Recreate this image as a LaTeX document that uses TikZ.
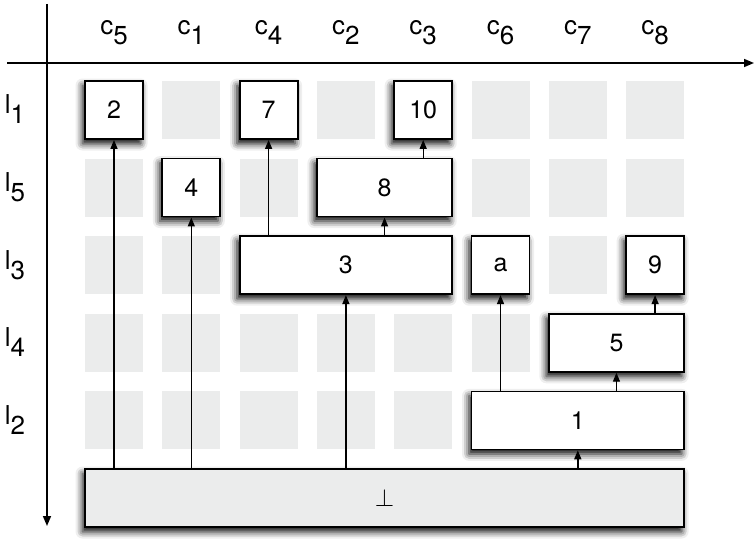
\documentclass[tikz,border=0pt]{standalone}
\usepackage{fontspec}
\setmainfont{TeX Gyre Heros}
\usepackage{xcolor}
\usetikzlibrary{arrows.meta,positioning,calc,shadows.blur}

\definecolor{cellgrey}{HTML}{EBECEC}
\newcommand{\idx}[2]{#1\raisebox{-10pt}{#2}}

\begin{document}
\begin{tikzpicture}[x=1pt,y=-1pt,
  every node/.style={font=\fontsize{25}{30}\selectfont},
  cell/.style={fill=cellgrey,draw=none,minimum size=58pt,inner sep=0pt},
  box/.style={draw,line width=1.8pt,fill=white,minimum height=58pt,
    minimum width=58pt,inner sep=0pt,
    blur shadow={shadow xshift=-2.5pt,shadow yshift=-4.5pt,
      shadow blur radius=7pt,shadow opacity=100}},
  wide/.style={minimum width={58+77.3*#1}},
  link/.style={line width=1.4pt,-{Triangle[length=9pt,width=7pt]}},
  axis/.style={line width=1.6pt,-{Triangle[length=10pt,width=8pt]}}]
  \useasboundingbox (0,0) rectangle (755,540);
  % grid of cells
  \foreach \i in {0,...,7}
    \foreach \j in {0,...,5}
      \coordinate (g\i\j) at ({114+77.3*\i},{110+77.6*\j});
  \foreach \i in {0,...,7}
    \foreach \j in {0,...,4}
      \node[cell] at (g\i\j) {};
  % axes
  \coordinate (xs) at (7,63);  \coordinate (xe) at (754,63);
  \coordinate (ys) at (47,4);  \coordinate (ye) at (47,526);
  \draw[axis] (xs) -- (xe);
  \draw[axis] (ys) -- (ye);
  % labels
  \foreach \c [count=\i from 0] in {5,1,4,2,3,6,7,8}
    \node[anchor=base,inner sep=0pt,font=\fontsize{26}{30}\selectfont]
      (c\c) at ($(g\i0)+(0,-75)$) {\idx{c}{\c}};
  \foreach \l [count=\j from 0] in {1,5,3,4,2}
    \node[anchor=base,inner sep=0pt,font=\fontsize{26}{30}\selectfont]
      (l\l) at ($(g0\j)+(-99,4)$) {\idx{l}{\l}};
  % boxes
  \node[box] (b2) at (g00) {2};
  \node[box] (b7) at (g20) {7};
  \node[box] (b10) at (g40) {10};
  \node[box] (b4) at (g11) {4};
  \node[box,wide=1] (b8) at ($(g31)!0.5!(g41)$) {8};
  \node[box,wide=2] (b3) at (g32) {3};
  \node[box] (ba) at (g52) {a};
  \node[box] (b9) at (g72) {9};
  \node[box,wide=1] (b5) at ($(g63)!0.5!(g73)$) {5};
  \node[box,wide=2] (b1) at (g64) {1};
  \node[box,wide=7,fill=cellgrey] (bot) at ($(g05)!0.5!(g75)$) {$\perp$};
  % links
  \draw[link] (bot.north -| b2.south) -- (b2.south);
  \draw[link] (bot.north -| b4.south) -- (b4.south);
  \draw[link] (bot.north -| b3.south) -- (b3.south);
  \draw[link] (bot.north -| b1.south) -- (b1.south);
  \draw[link] (b3.north -| b7.south) -- (b7.south);
  \draw[link] (b3.north -| b8.south) -- (b8.south);
  \draw[link] (b8.north -| b10.south) -- (b10.south);
  \draw[link] (b1.north -| ba.south) -- (ba.south);
  \draw[link] (b1.north -| b5.south) -- (b5.south);
  \draw[link] (b5.north -| b9.south) -- (b9.south);
\end{tikzpicture}
\end{document}
